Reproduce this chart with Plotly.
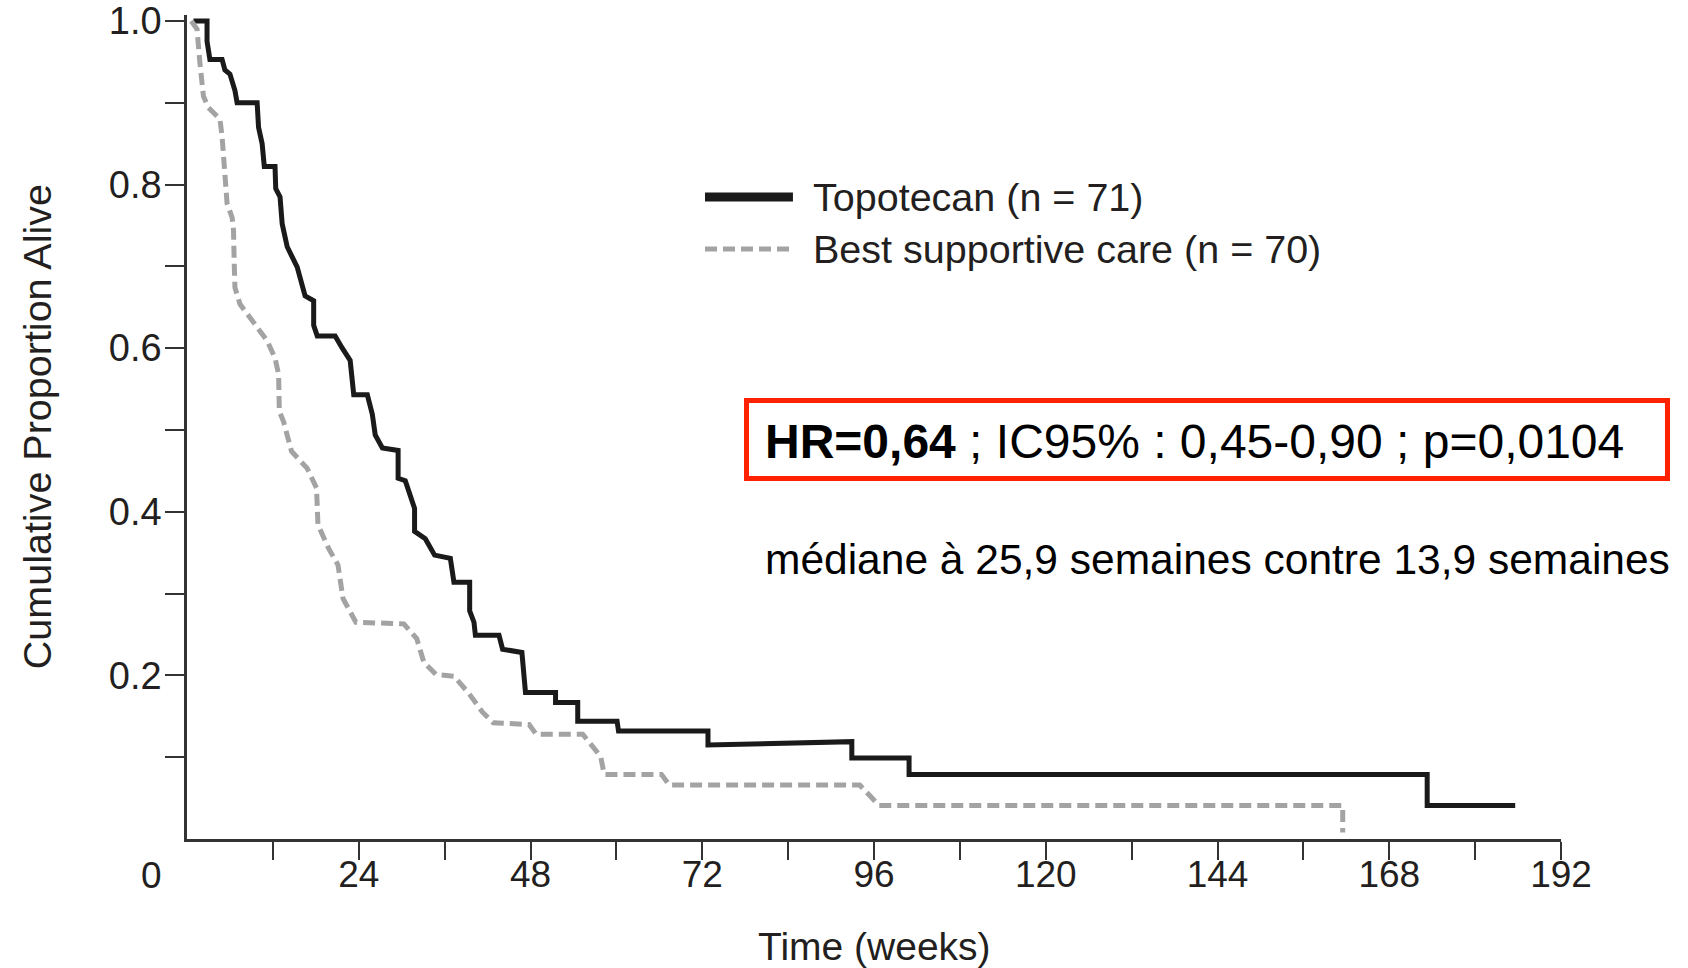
import plotly.graph_objects as go

# ---- data (weeks, cumulative proportion alive) ----
topo_weeks = [0.9, 2.8, 2.8, 3.2, 4.9, 5.3, 6.0, 6.7, 7.0, 9.8, 10.0, 10.5, 10.8, 12.3, 12.4,
              13.0, 13.3, 14.0, 15.4, 16.3, 16.5, 17.7, 17.7, 18.2, 20.7, 21.7, 22.8, 23.3,
              25.2, 25.9, 26.3, 27.3, 29.5, 29.5, 30.5, 31.8, 31.8, 33.3, 34.6, 36.8, 37.3,
              39.5, 39.5, 40.1, 40.3, 43.6, 44.1, 46.8, 47.3, 51.5, 51.5, 54.6, 54.6, 60.1,
              60.3, 72.8, 72.8, 92.9, 92.9, 100.9, 100.9, 173.3, 173.3, 185.6]
topo_surv = [1.00, 1.00, 0.975, 0.953, 0.953, 0.940, 0.935, 0.915, 0.900, 0.900, 0.870, 0.850,
             0.822, 0.822, 0.795, 0.785, 0.752, 0.724, 0.699, 0.674, 0.664, 0.658, 0.628, 0.615,
             0.615, 0.600, 0.585, 0.543, 0.543, 0.519, 0.494, 0.478, 0.475, 0.441, 0.438, 0.404,
             0.376, 0.367, 0.347, 0.343, 0.314, 0.314, 0.279, 0.265, 0.249, 0.249, 0.232, 0.228,
             0.179, 0.179, 0.167, 0.167, 0.144, 0.144, 0.132, 0.132, 0.115, 0.119, 0.099, 0.099,
             0.079, 0.079, 0.041, 0.041]

bsc_weeks = [0.6, 1.4, 1.8, 2.3, 3.0, 4.6, 4.9, 5.3, 5.6, 6.3, 6.5, 6.6, 6.7, 7.4, 8.8, 11.2,
             12.3, 12.8, 12.9, 13.5, 14.6, 16.8, 18.1, 18.3, 19.8, 21.1, 21.8, 23.6, 30.3, 32.1,
             33.1, 34.8, 37.3, 39.3, 41.3, 42.8, 47.8, 48.8, 55.3, 57.8, 58.3, 66.3, 67.4, 94.0,
             96.7, 161.5, 161.5]
bsc_surv = [1.00, 0.99, 0.949, 0.908, 0.894, 0.880, 0.859, 0.814, 0.777, 0.760, 0.744, 0.703,
            0.674, 0.654, 0.638, 0.609, 0.588, 0.568, 0.523, 0.510, 0.474, 0.453, 0.429, 0.384,
            0.355, 0.335, 0.294, 0.265, 0.263, 0.245, 0.216, 0.201, 0.199, 0.179, 0.155, 0.142,
            0.140, 0.128, 0.128, 0.101, 0.079, 0.079, 0.066, 0.066, 0.041, 0.041, 0.008]

x_tickvals = [12, 24, 36, 48, 60, 72, 84, 96, 108, 120, 132, 144, 156, 168, 180, 192]
x_ticktext = ["", "24", "", "48", "", "72", "", "96", "", "120", "", "144", "", "168", "", "192"]
y_tickvals = [0.1, 0.2, 0.3, 0.4, 0.5, 0.6, 0.7, 0.8, 0.9, 1.0]
y_ticktext = ["", "0.2", "", "0.4", "", "0.6", "", "0.8", "", "1.0"]

series_names = ["Topotecan (n = 71)", "Best supportive care (n = 70)"]
stats_text = "<b>HR=0,64</b> ; IC95% : 0,45-0,90 ; p=0,0104"
median_text = "médiane à 25,9 semaines contre 13,9 semaines"

FONT = "Liberation Sans, Arial, Helvetica, sans-serif"
TXT = "#231f20"
BLACK = "#1a1a1a"
GREY = "#a3a3a3"

fig = go.Figure()
fig.add_trace(go.Scatter(x=topo_weeks, y=topo_surv, mode="lines", name=series_names[0],
                         line=dict(color=BLACK, width=5)))
fig.add_trace(go.Scatter(x=bsc_weeks, y=bsc_surv, mode="lines", name=series_names[1],
                         line=dict(color=GREY, width=5, dash="12px,6px")))

fig.update_layout(
    width=1688, height=968,
    margin=dict(l=187, r=127, t=15, b=129),
    paper_bgcolor="white", plot_bgcolor="white",
    showlegend=False,
    font=dict(family=FONT, color=TXT, size=37),
)
fig.update_xaxes(range=[0, 192], tickvals=x_tickvals, ticktext=x_ticktext, automargin=False,
                 showgrid=False, zeroline=False, showline=True, linecolor="#333333",
                 linewidth=2.5, ticks="outside", ticklen=18, tickwidth=2, tickcolor="#333333",
                 ticklabelstandoff=-17,
                 tickfont=dict(size=37, family=FONT, color=TXT))
fig.update_yaxes(range=[0, 1.0073], tickvals=y_tickvals, ticktext=y_ticktext, automargin=False,
                 showgrid=False, zeroline=False, showline=True, linecolor="#333333",
                 linewidth=2.5, ticks="outside", ticklen=19, tickwidth=2, tickcolor="#333333",
                 ticklabelstandoff=-4,
                 tickfont=dict(size=38, family=FONT, color=TXT))

ann = []
# shared origin label
ann.append(dict(x=-0.0255, y=-0.0437, xref="paper", yref="paper", text="0", showarrow=False,
                xanchor="center", yanchor="middle", font=dict(size=37, family=FONT, color=TXT)))
# axis titles
ann.append(dict(x=-0.109, y=0.5, xref="paper", yref="paper", text="Cumulative Proportion Alive",
                textangle=-90, showarrow=False, xanchor="center", yanchor="middle",
                font=dict(size=39.5, family=FONT, color=TXT)))
ann.append(dict(x=0.5, y=-0.131, xref="paper", yref="paper", text="Time (weeks)",
                showarrow=False, xanchor="center", yanchor="middle",
                font=dict(size=39, family=FONT, color=TXT)))
# legend texts
ann.append(dict(x=0.4542, y=0.779, xref="paper", yref="paper", text=series_names[0],
                showarrow=False, xanchor="left", yanchor="middle",
                font=dict(size=39.5, family=FONT, color=TXT)))
ann.append(dict(x=0.4542, y=0.716, xref="paper", yref="paper", text=series_names[1],
                showarrow=False, xanchor="left", yanchor="middle",
                font=dict(size=39.5, family=FONT, color=TXT)))
# statistics
ann.append(dict(x=0.419, y=0.483, xref="paper", yref="paper", text=stats_text,
                showarrow=False, xanchor="left", yanchor="middle",
                font=dict(size=48, family=FONT, color="black")))
ann.append(dict(x=0.4191, y=0.3386, xref="paper", yref="paper", text=median_text,
                showarrow=False, xanchor="left", yanchor="middle",
                font=dict(size=42.5, family=FONT, color="black")))
fig.update_layout(annotations=ann)

shapes = []
# legend samples
shapes.append(dict(type="line", xref="paper", yref="paper", x0=0.377, x1=0.441, y0=0.779, y1=0.779,
                   line=dict(color=BLACK, width=9)))
shapes.append(dict(type="line", xref="paper", yref="paper", x0=0.377, x1=0.441, y0=0.716, y1=0.716,
                   line=dict(color=GREY, width=5, dash="12px,6px")))
# red box around statistics
shapes.append(dict(type="rect", xref="paper", yref="paper", x0=0.4072, x1=1.0775, y0=0.4375, y1=0.5322,
                   line=dict(color="#ff2200", width=5), fillcolor="rgba(0,0,0,0)"))
fig.update_layout(shapes=shapes)

fig.write_html("out.html")
